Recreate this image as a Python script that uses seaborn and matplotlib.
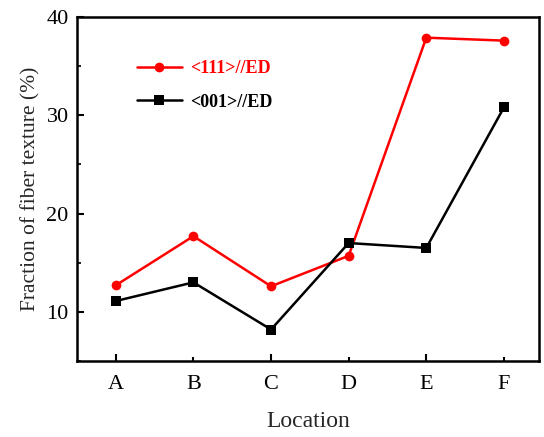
import matplotlib
matplotlib.use("Agg")
import matplotlib.pyplot as plt
import seaborn as sns
import pandas as pd
from matplotlib.ticker import MultipleLocator, FixedLocator, FixedFormatter

locations = ["A", "B", "C", "D", "E", "F"]
series_111 = [12.7, 17.7, 12.6, 15.7, 37.9, 37.6]
series_001 = [11.1, 13.0, 8.2, 17.0, 16.5, 30.8]
label_111 = "<111>//ED"
label_001 = "<001>//ED"

sns.set_theme(style="ticks")
plt.rcParams['font.family'] = ['Liberation Serif', 'DejaVu Serif']

df = pd.DataFrame({
    "Location": locations * 2,
    "value": series_111 + series_001,
    "series": [label_111] * 6 + [label_001] * 6,
})
df["x"] = list(range(6)) * 2

fig = plt.figure(figsize=(5.44, 4.37), dpi=100)
ax = fig.add_axes([0.1415, 0.174, 0.849, 0.787])

sns.lineplot(data=df, x="x", y="value", hue="series", style="series",
             palette={label_111: "#ff0000", label_001: "#000000"},
             markers={label_111: "o", label_001: "s"}, dashes=False,
             linewidth=1.8, markersize=7, markeredgewidth=0, ax=ax)

ax.set_xlim(-0.5, 5.45)
ax.set_ylim(5, 40)
ax.xaxis.set_major_locator(FixedLocator([0, 2, 4]))
ax.xaxis.set_major_formatter(FixedFormatter([locations[0], locations[2], locations[4]]))
ax.xaxis.set_minor_locator(FixedLocator([1, 3, 5]))
ax.xaxis.set_minor_formatter(FixedFormatter([locations[1], locations[3], locations[5]]))
ax.yaxis.set_major_locator(MultipleLocator(10))
ax.yaxis.set_minor_locator(MultipleLocator(5))
ax.tick_params(axis="both", which="major", direction="in", length=5, width=1.5,
               labelsize=16, colors="black")
ax.tick_params(axis="x", which="both", pad=10)
ax.tick_params(axis="y", which="major", pad=6)
ax.tick_params(axis="x", which="minor", direction="in", length=3, width=1.5,
               labelsize=16, colors="black")
ax.tick_params(axis="y", which="minor", direction="in", length=3, width=1.5)
ax.tick_params(top=False, right=False)
for s in ax.spines.values():
    s.set_linewidth(1.8)
    s.set_visible(True)
    s.set_color("black")

ax.set_xlabel("Location", fontsize=17, labelpad=12)
ax.set_ylabel("Fraction of fiber texture (%)", fontsize=15.5, labelpad=4)

leg = ax.legend(loc="upper left", bbox_to_anchor=(0.094, 0.921), frameon=False,
                prop={"weight": "bold", "size": 13}, handlelength=2.5,
                labelspacing=0.9, handletextpad=0.45)
for txt, col in zip(leg.get_texts(), ["#ff0000", "#000000"]):
    txt.set_color(col)

fig.savefig("out.png", dpi=100)
